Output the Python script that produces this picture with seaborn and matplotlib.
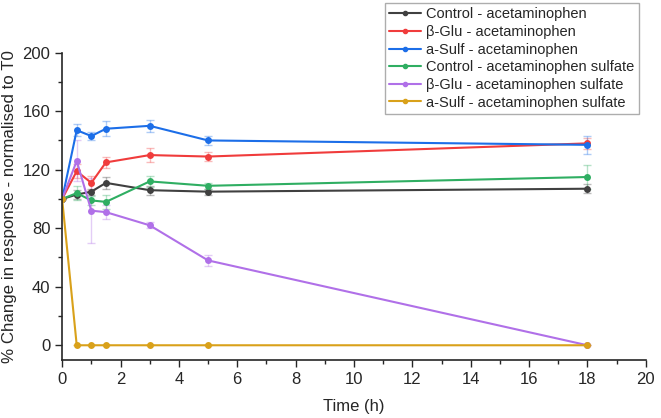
import matplotlib
matplotlib.use('Agg')
import matplotlib.pyplot as plt
import numpy as np
import pandas as pd
import seaborn as sns
from matplotlib.ticker import MultipleLocator

time_h = [0, 0.5, 1, 1.5, 3, 5, 18]

series_names = [
    'Control - acetaminophen',
    'β-Glu - acetaminophen',
    'a-Sulf - acetaminophen',
    'Control - acetaminophen sulfate',
    'β-Glu - acetaminophen sulfate',
    'a-Sulf - acetaminophen sulfate',
]

control_apap = [100, 103, 105, 111, 106, 105, 107]
bglu_apap = [100, 119, 111, 125, 130, 129, 138]
asulf_apap = [100, 147, 143, 148, 150, 140, 137]
control_sulf = [100, 104, 99, 98, 112, 109, 115]
bglu_sulf = [100, 126, 92, 91, 82, 58, 0]
asulf_sulf = [100, 0, 0, 0, 0, 0, 0]

control_apap_sd = [0, 3, 2, 4, 3, 2, 3]
bglu_apap_sd = [0, 5, 5, 4, 5, 3, 4]
asulf_apap_sd = [0, 4, 3, 5, 4, 3, 6]
control_sulf_sd = [0, 5, 3, 5, 4, 2, 8]
bglu_sulf_sd = [0, 14, 22, 5, 2, 4, 0]
asulf_sulf_sd = [0, 0, 0, 0, 0, 0, 0]

colors = ['#404040', '#f03c3c', '#1c6ee8', '#2fae62', '#b070e8', '#d9a11a']

values = [control_apap, bglu_apap, asulf_apap, control_sulf, bglu_sulf, asulf_sulf]
errors = [control_apap_sd, bglu_apap_sd, asulf_apap_sd, control_sulf_sd, bglu_sulf_sd, asulf_sulf_sd]

rows = []
for name, vals in zip(series_names, values):
    for t, v in zip(time_h, vals):
        rows.append({'time': t, 'value': v, 'series': name})
df = pd.DataFrame(rows)

sns.set_style('ticks')
plt.rcParams['font.family'] = ['Liberation Sans', 'DejaVu Sans']

fig = plt.figure(figsize=(6.61, 4.18), dpi=100)
ax = fig.add_axes([0.094, 0.139, 0.883, 0.735])

# error bars first, faint
for name, vals, err, c in zip(series_names, values, errors, colors):
    ax.errorbar(time_h, vals, yerr=err, fmt='none', ecolor=c, alpha=0.35,
                elinewidth=1, capsize=3, capthick=1)

sns.lineplot(data=df, x='time', y='value', hue='series', hue_order=series_names,
             palette=colors, marker='o', markersize=5, markeredgewidth=0,
             linewidth=1.5, ax=ax, legend=False)

ax.set_xlim(0, 20)
ax.set_ylim(-10, 200)
ax.set_yticks([0, 40, 80, 120, 160, 200])
ax.set_xticks(range(0, 21, 2))
ax.xaxis.set_minor_locator(MultipleLocator(1))
ax.yaxis.set_minor_locator(MultipleLocator(20))
ax.tick_params(which='major', length=5, width=1, labelsize=12, direction='out')
ax.tick_params(which='minor', length=3, width=1, direction='out')
ax.spines['top'].set_visible(False)
ax.spines['right'].set_visible(False)
for s in ['left', 'bottom']:
    ax.spines[s].set_linewidth(1.2)
ax.set_xlabel('Time (h)', fontsize=12, labelpad=9)
ax.set_ylabel('% Change in response - normalised to T0', fontsize=12.2)

handles = [plt.Line2D([0], [0], color=c, marker='o', markersize=3, linewidth=1.5)
           for c in colors]
leg = fig.legend(handles, series_names, loc='upper right',
                 bbox_to_anchor=(639 / 661, 1 - 3 / 418), fontsize=10.5,
                 frameon=True, fancybox=False, edgecolor='#999999',
                 handlelength=2.2, handletextpad=0.35, labelspacing=0.25,
                 borderpad=0.3, borderaxespad=0)
leg.get_frame().set_linewidth(1)

fig.savefig('out.png', dpi=100)
